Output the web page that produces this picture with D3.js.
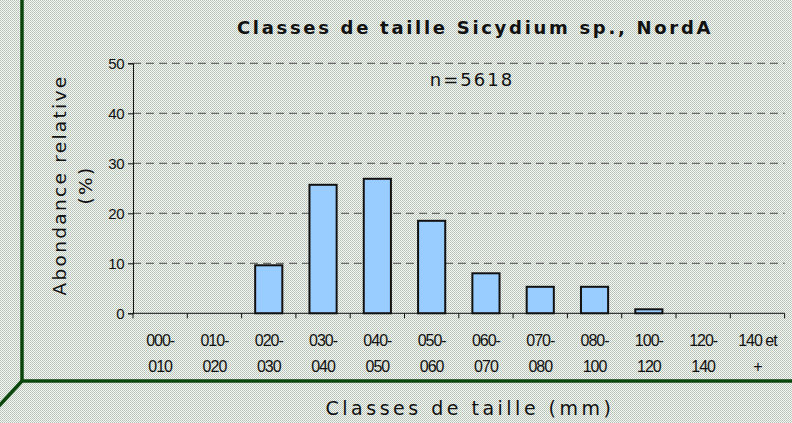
<!DOCTYPE html>
<html>
<head>
<meta charset="utf-8">
<script src="https://cdn.jsdelivr.net/npm/d3@7"></script>
<style>
  html, body { margin: 0; padding: 0; background: #fff; }
  svg { display: block; }
</style>
</head>
<body>
<div id="chart"></div>
<script>
// Size classes (mm), two-line labels
const categories = ["000-010", "010-020", "020-030", "030-040", "040-050", "050-060",
                    "060-070", "070-080", "080-100", "100-120", "120-140", "140 et +"];
const labelLines = [["000-", "010"], ["010-", "020"], ["020-", "030"], ["030-", "040"],
                    ["040-", "050"], ["050-", "060"], ["060-", "070"], ["070-", "080"],
                    ["080-", "100"], ["100-", "120"], ["120-", "140"], ["140 et", "+"]];
// Relative abundance (%)
const abundance = [0, 0, 9.6, 25.7, 26.9, 18.5, 8.0, 5.3, 5.3, 0.8, 0, 0];
const yTicks = [0, 10, 20, 30, 40, 50];
const titleText = "Classes de taille Sicydium sp., NordA";
const sampleText = "n=5618";

const W = 792, H = 423;
const svg = d3.select("#chart").append("svg").attr("width", W).attr("height", H);

// dithered background texture
const defs = svg.append("defs");
const pat = defs.append("pattern").attr("id", "dither")
  .attr("width", 2).attr("height", 2).attr("patternUnits", "userSpaceOnUse");
pat.append("rect").attr("width", 2).attr("height", 2).attr("fill", "#f5f7f5");
pat.append("rect").attr("x", 0).attr("y", 0).attr("width", 1).attr("height", 1).attr("fill", "#b3c0b3");
pat.append("rect").attr("x", 1).attr("y", 1).attr("width", 1).attr("height", 1).attr("fill", "#bfcbbf");
svg.append("rect").attr("width", W).attr("height", H).attr("fill", "url(#dither)");

// 3D frame edges
const frame = svg.append("g").attr("stroke", "#0a460c").attr("stroke-width", 3.5).attr("fill", "none");
frame.append("line").attr("x1", 22).attr("x2", 22).attr("y1", 0).attr("y2", 381);
frame.append("line").attr("x1", 22).attr("x2", W).attr("y1", 381).attr("y2", 381);
frame.append("line").attr("x1", 22).attr("x2", -2).attr("y1", 381).attr("y2", 407);

const plotLeft = 133, plotRight = 784.6, plotTop = 63.3, plotBottom = 313.3;

const x = d3.scaleBand().domain(categories).range([plotLeft, plotRight]).paddingInner(0).paddingOuter(0);
const y = d3.scaleLinear().domain([0, 50]).range([plotBottom, plotTop]);

// dashed gridlines
svg.append("g")
  .selectAll("line").data(yTicks.filter(d => d > 0)).join("line")
  .attr("x1", plotLeft).attr("x2", plotRight)
  .attr("y1", d => y(d)).attr("y2", d => y(d))
  .attr("stroke", "#6a6a6a").attr("stroke-width", 1.3)
  .attr("stroke-dasharray", "8,5");

// bars
const bw = x.bandwidth() * 0.5;
svg.append("g")
  .selectAll("rect").data(categories.map((c, i) => ({ c, v: abundance[i] })).filter(d => d.v > 0))
  .join("rect")
  .attr("x", d => x(d.c) + (x.bandwidth() - bw) / 2)
  .attr("width", bw)
  .attr("y", d => y(d.v))
  .attr("height", d => y(0) - y(d.v))
  .attr("fill", "#99ccff")
  .attr("stroke", "#111").attr("stroke-width", 2);

// y axis
const yAxis = svg.append("g").attr("transform", `translate(${plotLeft},0)`)
  .call(d3.axisLeft(y).tickValues(yTicks).tickSize(5).tickPadding(4));
yAxis.select(".domain").attr("stroke", "#111");
yAxis.selectAll(".tick line").attr("stroke", "#111");
yAxis.selectAll("text").attr("font-family", "Liberation Sans, Arial, sans-serif")
  .attr("font-size", 15).attr("fill", "#111").attr("letter-spacing", "-0.5px");

// x axis: tick marks at band boundaries
const xAxisG = svg.append("g");
xAxisG.append("line").attr("x1", plotLeft).attr("x2", plotRight).attr("y1", plotBottom).attr("y2", plotBottom)
  .attr("stroke", "#111").attr("stroke-width", 1);
const bounds = categories.map(c => x(c)).concat([plotRight]);
xAxisG.selectAll("line.tk").data(bounds).join("line").attr("class", "tk")
  .attr("x1", d => d).attr("x2", d => d).attr("y1", plotBottom).attr("y2", plotBottom + 5)
  .attr("stroke", "#111");

// category labels
const lbl = svg.append("g").attr("font-family", "Liberation Sans, Arial, sans-serif")
  .attr("font-size", 16).attr("fill", "#111").attr("text-anchor", "middle")
  .attr("letter-spacing", "-1px");
categories.forEach((c, i) => {
  const cx = x(c) + x.bandwidth() / 2;
  const t = lbl.append("text").attr("x", cx).attr("y", 346);
  t.append("tspan").attr("x", cx).text(labelLines[i][0]);
  t.append("tspan").attr("x", cx).attr("y", 372).text(labelLines[i][1]);
});

// title
svg.append("text").attr("x", 475).attr("y", 34).attr("text-anchor", "middle")
  .attr("font-family", "DejaVu Sans, Verdana, sans-serif").attr("font-weight", "bold")
  .attr("font-size", 18).attr("letter-spacing", "2.7px").attr("fill", "#111")
  .text(titleText);

// sample size
svg.append("text").attr("x", 472).attr("y", 86).attr("text-anchor", "middle")
  .attr("font-family", "DejaVu Sans, Verdana, sans-serif")
  .attr("font-size", 18).attr("letter-spacing", "2px").attr("fill", "#111")
  .text(sampleText);

// y axis title
const yt = svg.append("text").attr("transform", "translate(0,185) rotate(-90)")
  .attr("text-anchor", "middle")
  .attr("font-family", "DejaVu Sans, Verdana, sans-serif")
  .attr("font-size", 18.5).attr("letter-spacing", "2.3px").attr("fill", "#111");
yt.append("tspan").attr("x", 0).attr("y", 66).text("Abondance relative");
yt.append("tspan").attr("x", 0).attr("y", 92).text("(%)");

// x axis title
svg.append("text").attr("x", 470).attr("y", 415).attr("text-anchor", "middle")
  .attr("font-family", "DejaVu Sans, Verdana, sans-serif")
  .attr("font-size", 19).attr("letter-spacing", "3.5px").attr("fill", "#111")
  .text("Classes de taille (mm)");
</script>
</body>
</html>
